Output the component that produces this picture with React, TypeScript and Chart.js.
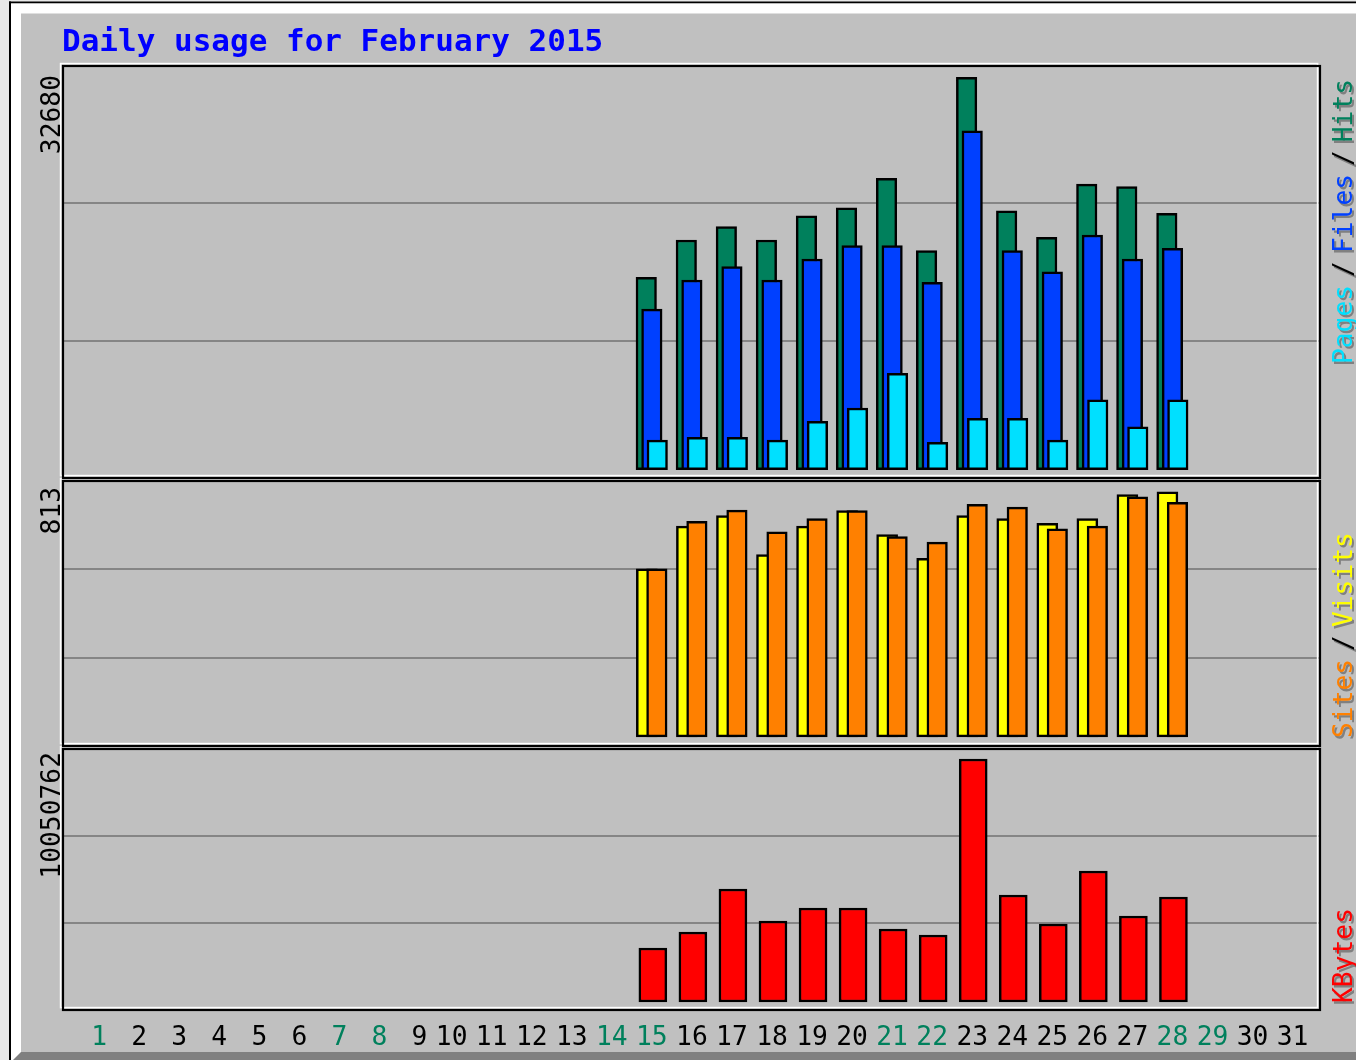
import React, { useEffect, useRef } from 'react';
import { Chart, registerables } from 'chart.js';

Chart.register(...registerables);

// ---------------- data ----------------
const TITLE = 'Daily usage for February 2015';
const AXIS_DAYS = [1, 2, 3, 4, 5, 6, 7, 8, 9, 10, 11, 12, 13, 14, 15, 16, 17, 18, 19, 20, 21, 22, 23, 24, 25, 26, 27, 28, 29, 30, 31];
const WEEKEND_DAYS = [1, 7, 8, 14, 15, 21, 22, 28, 29];
const LOG_DAYS = [15, 16, 17, 18, 19, 20, 21, 22, 23, 24, 25, 26, 27, 28];

const HITS = [16020, 19130, 20240, 19130, 21150, 21800, 24270, 18240, 32680, 21570, 19360, 23790, 23570, 21350];
const FILES = [13380, 15800, 16910, 15800, 17550, 18660, 18660, 15610, 28230, 18240, 16490, 19550, 17550, 18440];
const PAGES = [2470, 2700, 2700, 2470, 4030, 5140, 8030, 2280, 4280, 4280, 2470, 5830, 3580, 5830];
const VISITS = [557, 699, 734, 605, 699, 751, 671, 592, 734, 724, 708, 724, 804, 813];
const SITES = [557, 715, 752, 680, 724, 751, 664, 646, 771, 762, 690, 699, 796, 778];
const KBYTES = [2233500, 2895300, 4673800, 3350300, 3888000, 3888000, 3019400, 2771200, 10050762, 4425600, 3226200, 5418300, 3557000, 4343000];

// ---------------- style ----------------
const W = 1356;
const H = 1060;
const MONO = '"DejaVu Sans Mono", "Liberation Mono", monospace';
const CELL = 15.84; // one character cell of the small font
const FONT_SIZE = 26.3;
const C = {
  hits: '#00805c',
  files: '#0040ff',
  pages: '#00e0ff',
  visits: '#ffff00',
  sites: '#ff8000',
  kbytes: '#ff0000',
  title: '#0000ff',
  weekend: '#00805c',
  grid: '#858585',
  panel: '#c0c0c0',
};

const AREA_LEFT = 64;
const AREA_RIGHT = 1319;
const X_MIN = 0.32;
const X_MAX = 31.66;
const DAY_PX = (AREA_RIGHT - AREA_LEFT) / (X_MAX - X_MIN);

const PEAK1 = Math.max(...HITS, ...FILES, ...PAGES);
const PEAK2 = Math.max(...VISITS, ...SITES);
const PEAK3 = Math.max(...KBYTES);

const yRange = (peak: number, padBottom: number, padTop: number) => ({ min: -peak * padBottom, max: peak * (1 + padTop) });
const R1 = yRange(PEAK1, 0.0211, 0.0288);
const R2 = yRange(PEAK2, 0.0375, 0.044);
const R3 = yRange(PEAK3, 0.0329, 0.041);

const thirds = (axis: any) => {
  const { min, max } = axis;
  axis.ticks = [1, 2].map((k) => ({ value: min + ((max - min) * k) / 3 }));
};
const dayTicks = (axis: any) => {
  axis.ticks = AXIS_DAYS.map((d) => ({ value: d }));
};

const panelAxis = (stackWeight: number, order: number, r: { min: number; max: number }) => ({
  type: 'linear',
  position: 'right',
  stack: 'panels',
  stackWeight,
  weight: order,
  min: r.min,
  max: r.max,
  afterBuildTicks: thirds,
  ticks: { display: false },
  grid: { color: C.grid, lineWidth: 2, drawTicks: false },
  border: { display: false },
});
const spacerAxis = (stackWeight: number, order: number) => ({
  type: 'linear',
  position: 'right',
  stack: 'panels',
  stackWeight,
  weight: order,
  display: false,
});
// hidden day axis, shifted sideways by a number of pixels so that bars of one day overlap
const shiftedX = (px: number) => ({
  type: 'linear',
  display: false,
  min: X_MIN - px / DAY_PX,
  max: X_MAX - px / DAY_PX,
  offset: false,
  afterBuildTicks: dayTicks,
});

// ---------------- plugins ----------------
function drawUp(ctx: CanvasRenderingContext2D, text: string, x: number, y: number, color: string, align: CanvasTextAlign = 'left') {
  ctx.save();
  ctx.translate(x, y);
  ctx.rotate(-Math.PI / 2);
  ctx.textAlign = align;
  ctx.textBaseline = 'alphabetic';
  ctx.fillStyle = color;
  ctx.fillText(text, 0, 0);
  ctx.restore();
}

function legendUp(ctx: CanvasRenderingContext2D, parts: { text: string; color: string }[], x: number, startY: number) {
  ctx.font = `${FONT_SIZE}px ${MONO}`;
  let y = startY;
  parts.forEach((p, i) => {
    if (i > 0) y -= CELL / 2;
    drawUp(ctx, p.text, x + 2.4, y + 2.4, '#808080');
    drawUp(ctx, p.text, x, y, p.color);
    y -= p.text.length * CELL;
  });
}

const backdrop = {
  id: 'backdrop',
  beforeDraw(chart: any) {
    const ctx = chart.ctx as CanvasRenderingContext2D;
    ctx.save();
    ctx.fillStyle = '#e8e8e8';
    ctx.fillRect(0, 0, W, H);
    ctx.fillStyle = '#000';
    ctx.fillRect(9, 1.5, W, 2);
    ctx.fillRect(9, 1.5, 2, H);
    ctx.fillStyle = '#ffffff';
    ctx.fillRect(11, 3.5, W, H);
    ctx.fillStyle = '#808080';
    ctx.beginPath();
    ctx.moveTo(11, H + 2);
    ctx.lineTo(21, 1052);
    ctx.lineTo(W, 1052);
    ctx.lineTo(W, H + 2);
    ctx.closePath();
    ctx.fill();
    ctx.fillStyle = C.panel;
    ctx.fillRect(21, 13.5, W, 1052 - 13.5);
    ctx.restore();
  },
};

const paintInOrder = {
  id: 'paintInOrder',
  beforeDatasetsDraw(chart: any) {
    const metas = chart.getSortedVisibleDatasetMetas().slice().sort((a: any, b: any) => a.index - b.index);
    metas.forEach((m: any) => m.controller.draw());
    return false;
  },
};

const decorations = {
  id: 'decorations',
  afterDraw(chart: any) {
    const ctx = chart.ctx as CanvasRenderingContext2D;
    const { left, right } = chart.chartArea;
    const panels = ['y1', 'y2', 'y3'].map((id) => chart.scales[id]);
    ctx.save();
    // frames
    panels.forEach((s: any) => {
      const x0 = left - 1;
      const x1 = right + 1;
      ctx.strokeStyle = '#ffffff';
      ctx.lineWidth = 1.6;
      ctx.strokeRect(x0 - 2.4, s.top - 2.4, x1 - x0, s.bottom - s.top);
    });
    panels.forEach((s: any) => {
      const x0 = left - 1;
      const x1 = right + 1;
      ctx.strokeStyle = '#000000';
      ctx.lineWidth = 2.2;
      ctx.strokeRect(x0, s.top, x1 - x0, s.bottom - s.top);
    });
    // title
    ctx.font = `bold 31px ${MONO}`;
    ctx.fillStyle = C.title;
    ctx.textAlign = 'left';
    ctx.textBaseline = 'alphabetic';
    ctx.fillText(TITLE, 62, 51);
    // peak labels
    ctx.font = `${FONT_SIZE}px ${MONO}`;
    drawUp(ctx, String(PEAK1), 60, 75, '#000', 'right');
    drawUp(ctx, String(PEAK2), 60, 487, '#000', 'right');
    drawUp(ctx, String(PEAK3), 60, 752, '#000', 'right');
    // legends
    legendUp(ctx, [
      { text: 'Pages', color: C.pages },
      { text: '/', color: '#000' },
      { text: 'Files', color: C.files },
      { text: '/', color: '#000' },
      { text: 'Hits', color: C.hits },
    ], 1352, 364);
    legendUp(ctx, [
      { text: 'Sites', color: C.sites },
      { text: '/', color: '#000' },
      { text: 'Visits', color: C.visits },
    ], 1352, 738);
    legendUp(ctx, [{ text: 'KBytes', color: C.kbytes }], 1352, 1003);
    ctx.restore();
  },
};

// ---------------- component ----------------
export default function App() {
  const ref = useRef<HTMLCanvasElement | null>(null);

  useEffect(() => {
    if (!ref.current) return;
    const bar = { borderColor: '#000000', borderWidth: 2.5, borderSkipped: false, grouped: false };
    const chart = new Chart(ref.current, {
      type: 'bar',
      data: {
        labels: LOG_DAYS,
        datasets: [
          { label: 'Hits', data: HITS, xAxisID: 'xHits', yAxisID: 'y1', backgroundColor: C.hits, barThickness: 20.5, ...bar },
          { label: 'Files', data: FILES, xAxisID: 'x', yAxisID: 'y1', backgroundColor: C.files, barThickness: 20.5, ...bar },
          { label: 'Pages', data: PAGES, xAxisID: 'xPages', yAxisID: 'y1', backgroundColor: C.pages, barThickness: 20.5, ...bar },
          { label: 'Visits', data: VISITS, xAxisID: 'xVisits', yAxisID: 'y2', backgroundColor: C.visits, barThickness: 21, ...bar },
          { label: 'Sites', data: SITES, xAxisID: 'xSites', yAxisID: 'y2', backgroundColor: C.sites, barThickness: 20.5, ...bar },
          { label: 'KBytes', data: KBYTES, xAxisID: 'xKB', yAxisID: 'y3', backgroundColor: C.kbytes, barThickness: 28, ...bar },
        ],
      } as any,
      options: {
        animation: false,
        responsive: false,
        devicePixelRatio: 1,
        layout: { padding: { left: AREA_LEFT, right: W - AREA_RIGHT, top: 66, bottom: 0 } },
        plugins: { legend: { display: false }, tooltip: { enabled: false }, title: { display: false } },
        scales: {
          x: {
            type: 'linear',
            position: 'bottom',
            min: X_MIN,
            max: X_MAX,
            offset: false,
            afterBuildTicks: dayTicks,
            afterFit: (axis: any) => {
              axis.height = 50;
            },
            grid: { display: false, drawTicks: false },
            border: { display: false },
            ticks: {
              autoSkip: false,
              maxRotation: 0,
              minRotation: 0,
              padding: 12,
              font: { family: MONO, size: FONT_SIZE },
              color: (c: any) => (WEEKEND_DAYS.includes(c.tick && c.tick.value) ? C.weekend : '#000000'),
              callback: (v: any) => String(v).padStart(2, ' '),
            },
          },
          xHits: shiftedX(-5.6),
          xPages: shiftedX(5.4),
          xVisits: shiftedX(-5),
          xSites: shiftedX(5),
          xKB: shiftedX(1),
          y1: panelAxis(412, 1, R1),
          g1: spacerAxis(3, 2),
          y2: panelAxis(265, 3, R2),
          g2: spacerAxis(3, 4),
          y3: panelAxis(261, 5, R3),
        },
      } as any,
      plugins: [backdrop, paintInOrder, decorations],
    });
    return () => chart.destroy();
  }, []);

  return (
    <div style={{ position: 'absolute', left: 0, top: 0, width: W, height: H }}>
      <canvas ref={ref} width={W} height={H} style={{ display: 'block' }} />
    </div>
  );
}
